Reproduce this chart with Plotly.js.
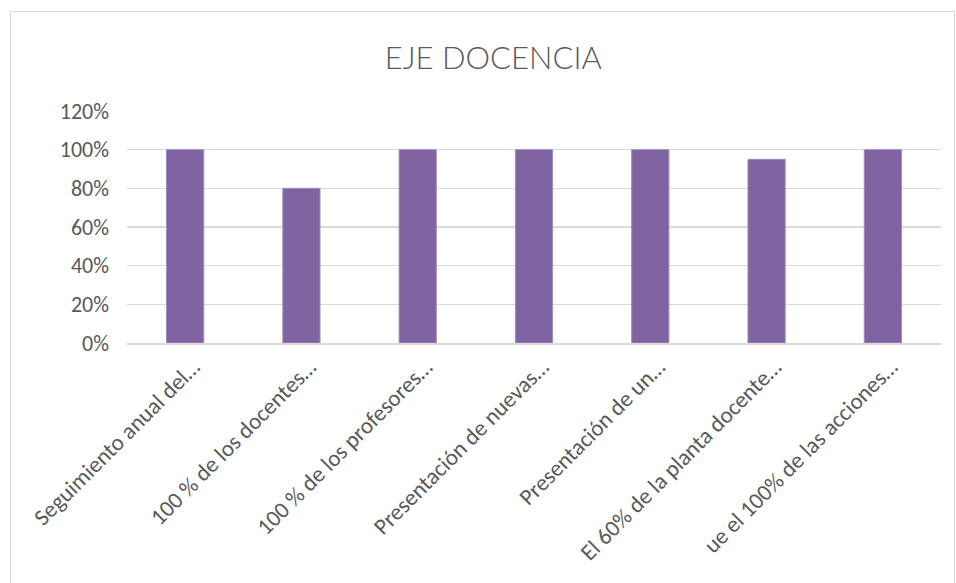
<!DOCTYPE html>
<html>
<head>
<meta charset="utf-8">
<script src="https://cdn.plot.ly/plotly-3.0.1.min.js"></script>
<style>
html,body{margin:0;padding:0;background:#fff;}
#wrap{position:relative;width:956px;height:583px;}
#chart{width:956px;height:583px;}
#frame{position:absolute;left:10px;top:11px;width:943px;height:580px;border:1px solid #d9d9d9;pointer-events:none;}
</style>
</head>
<body>
<div id="wrap"><div id="chart"></div><div id="frame"></div></div>
<script>
const categories = [
  "Seguimiento anual del…",
  "100 % de los docentes…",
  "100 % de los profesores…",
  "Presentación de nuevas…",
  "Presentación de un…",
  "El 60% de la planta docente…",
  "ue el 100% de las acciones…"
];
const values = [1.00, 0.80, 1.00, 1.00, 1.00, 0.95, 1.00];
const yTickVals = [0, 0.2, 0.4, 0.6, 0.8, 1.0, 1.2];
const yTickText = ["0%", "20%", "40%", "60%", "80%", "100%", "120%"];

const font = "Carlito, Calibri, Lato, 'Open Sans', 'Liberation Sans', sans-serif";
const titleFont = "'Lato Light', Lato, Carlito, sans-serif";

Plotly.newPlot('chart', [{
  type: 'bar',
  x: categories,
  y: values,
  marker: {color: '#8064A2', line: {color: '#9F8BBC', width: 1}},
  hoverinfo: 'none'
}], {
  width: 956, height: 583,
  margin: {l: 127, r: 15, t: 110.5, b: 239.5},
  paper_bgcolor: '#fff', plot_bgcolor: '#fff',
  bargap: 0.68,
  showlegend: false,
  title: {text: 'EJE DOCENCIA', x: 0.516, xanchor: 'center', y: 0.9, yanchor: 'middle',
          font: {family: titleFont, size: 31, weight: 300, color: '#595959'}},
  xaxis: {
    tickangle: -45,
    tickfont: {family: font, size: 23, color: '#595959'},
    showline: true, linecolor: '#d9d9d9', linewidth: 1.5,
    showgrid: false, ticks: '', ticklabelshift: 8, fixedrange: true
  },
  yaxis: {
    range: [0, 1.2],
    tickvals: yTickVals, ticktext: yTickText,
    tickfont: {family: font, size: 22, color: '#595959'},
    showgrid: true, gridcolor: '#d9d9d9', gridwidth: 1.5,
    zeroline: false, showline: false, ticks: '',
    ticklabelstandoff: 17, fixedrange: true
  }
}, {displayModeBar: false, staticPlot: true});
</script>
</body>
</html>
